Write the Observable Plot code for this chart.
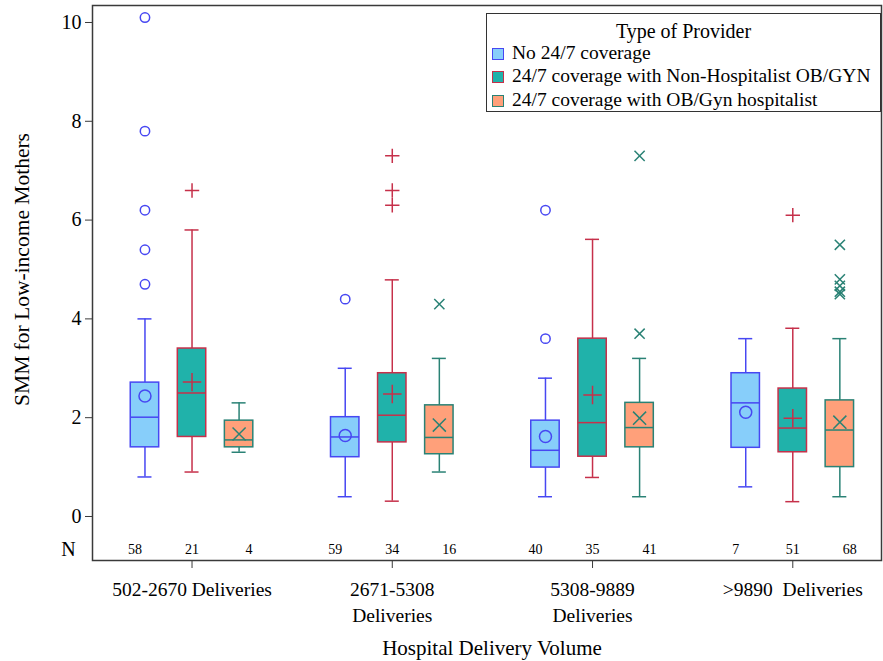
<!DOCTYPE html>
<html>
<head>
<meta charset="utf-8">
<script src="https://cdn.jsdelivr.net/npm/d3@7"></script>
<script src="https://cdn.jsdelivr.net/npm/@observablehq/plot@0.6"></script>
<style>
  html, body { margin: 0; padding: 0; background: #fff; }
  #wrap { position: relative; width: 883px; height: 661px; font-family: "Liberation Serif", "Times New Roman", serif; }
  #wrap svg { font-family: "Liberation Serif", "Times New Roman", serif !important; }
  #legend { position: absolute; left: 486px; top: 13px; width: 393px; height: 97px; border: 1.5px solid #333; background: #fff; box-sizing: content-box; }
  #legend .title { position: absolute; left: 0; right: 0; top: 5px; text-align: center; font-size: 20px; line-height: 24px; }
  #legend .item { position: absolute; left: 5px; font-size: 19.5px; line-height: 22px; white-space: nowrap; }
  #legend .sw { display: inline-block; width: 10px; height: 10px; border: 1.5px solid; margin-right: 8px; vertical-align: -1px; }
</style>
</head>
<body>
<div id="wrap"></div>
<script>
// ---------- data ----------
const groups = ["502-2670 Deliveries", "2671-5308\nDeliveries", "5308-9889\nDeliveries", ">9890\u00a0 Deliveries"];
const providers = ["No 24/7 coverage", "24/7 coverage with Non-Hospitalist OB/GYN", "24/7 coverage with OB/Gyn hospitalist"];
const legendTitle = "Type of Provider";
const yTicks = [0, 2, 4, 6, 8, 10];

// No 24/7 coverage
const noCovQ1   = [1.40, 1.20, 0.99, 1.39];
const noCovMed  = [2.01, 1.61, 1.34, 2.30];
const noCovQ3   = [2.71, 2.01, 1.94, 2.90];
const noCovLo   = [0.80, 0.40, 0.40, 0.60];
const noCovHi   = [4.00, 3.00, 2.80, 3.60];
const noCovMean = [2.44, 1.64, 1.62, 2.11];
const noCovN    = [58, 59, 40, 7];
const noCovOut  = [[10.1, 7.8, 6.2, 5.4, 4.7], [4.4], [6.2, 3.6], []];

// 24/7 coverage with Non-Hospitalist OB/GYN
const nonHospQ1   = [1.61, 1.50, 1.21, 1.30];
const nonHospMed  = [2.50, 2.05, 1.90, 1.79];
const nonHospQ3   = [3.40, 2.90, 3.60, 2.59];
const nonHospLo   = [0.90, 0.31, 0.79, 0.30];
const nonHospHi   = [5.80, 4.79, 5.61, 3.81];
const nonHospMean = [2.72, 2.48, 2.46, 1.99];
const nonHospN    = [21, 34, 35, 51];
const nonHospOut  = [[6.6], [7.3, 6.6, 6.3], [], [6.1]];

// 24/7 coverage with OB/Gyn hospitalist
const hospQ1   = [1.40, 1.26, 1.40, 1.00];
const hospMed  = [1.55, 1.60, 1.80, 1.75];
const hospQ3   = [1.94, 2.25, 2.30, 2.35];
const hospLo   = [1.30, 0.90, 0.40, 0.40];
const hospHi   = [2.30, 3.20, 3.20, 3.60];
const hospMean = [1.67, 1.85, 1.99, 1.91];
const hospN    = [4, 16, 41, 68];
const hospOut  = [[], [4.3], [7.3, 3.7], [5.5, 4.8, 4.67, 4.55, 4.5]];

// ---------- styles ----------
const styles = [
  {fill: "#87CEFA", stroke: "#4747F2", symbol: "circle"},
  {fill: "#20B2AA", stroke: "#C6304A", symbol: "plus"},
  {fill: "#FFA07A", stroke: "#2A8275", symbol: "times"}
];
const boxOffset = [-0.235, 0, 0.235];
const nOffset = [-0.285, 0, 0.285];
const boxW = 0.142, capHalf = 0.035;
const nRowY = -0.668;
const serif = "'Liberation Serif', 'Times New Roman', serif";

const series = [
  {q1: noCovQ1, med: noCovMed, q3: noCovQ3, lo: noCovLo, hi: noCovHi, mean: noCovMean, n: noCovN, out: noCovOut},
  {q1: nonHospQ1, med: nonHospMed, q3: nonHospQ3, lo: nonHospLo, hi: nonHospHi, mean: nonHospMean, n: nonHospN, out: nonHospOut},
  {q1: hospQ1, med: hospMed, q3: hospQ3, lo: hospLo, hi: hospHi, mean: hospMean, n: hospN, out: hospOut}
];

const marks = [];
series.forEach((s, p) => {
  const st = styles[p];
  const rows = groups.map((_, g) => ({
    g, x: g + boxOffset[p], q1: s.q1[g], med: s.med[g], q3: s.q3[g],
    lo: s.lo[g], hi: s.hi[g], mean: s.mean[g], n: s.n[g]
  }));
  const outRows = [];
  s.out.forEach((vals, g) => vals.forEach(v => outRows.push({x: g + boxOffset[p], y: v})));
  marks.push(
    Plot.ruleX(rows, {x: "x", y1: "q3", y2: "hi", stroke: st.stroke, strokeWidth: 1.5}),
    Plot.ruleX(rows, {x: "x", y1: "lo", y2: "q1", stroke: st.stroke, strokeWidth: 1.5}),
    Plot.ruleY(rows, {y: "hi", x1: d => d.x - capHalf, x2: d => d.x + capHalf, stroke: st.stroke, strokeWidth: 1.5}),
    Plot.ruleY(rows, {y: "lo", x1: d => d.x - capHalf, x2: d => d.x + capHalf, stroke: st.stroke, strokeWidth: 1.5}),
    Plot.rect(rows, {x1: d => d.x - boxW / 2, x2: d => d.x + boxW / 2, y1: "q1", y2: "q3", fill: st.fill, stroke: st.stroke, strokeWidth: 1.5}),
    Plot.ruleY(rows, {y: "med", x1: d => d.x - boxW / 2, x2: d => d.x + boxW / 2, stroke: st.stroke, strokeWidth: 1.5}),
    Plot.dot(rows, {x: "x", y: "mean", symbol: st.symbol, r: 6, fill: "none", stroke: st.stroke, strokeWidth: 1.5}),
    Plot.dot(outRows, {x: "x", y: "y", symbol: st.symbol, r: 4.7, fill: "none", stroke: st.stroke, strokeWidth: 1.5}),
    Plot.text(rows, {x: d => d.g + nOffset[p], y: () => nRowY, text: d => String(d.n), fontSize: 14, fill: "#000", fontFamily: serif})
  );
});

const chart = Plot.plot({
  width: 883,
  height: 661,
  marginLeft: 92,
  marginRight: 2,
  marginTop: 5,
  marginBottom: 101,
  style: "font-family: 'Liberation Serif', 'Times New Roman', serif; font-size: 20px; background: #fff; color: #000;",
  x: {domain: [-0.497, 3.443]},
  y: {domain: [-0.891, 10.344]},
  marks: [
    ...marks,
    Plot.frame({stroke: "#3a3a3a", strokeWidth: 1.5}),
    Plot.axisY({ticks: yTicks, tickSize: 7, tickPadding: 4, fontSize: 20, label: null, stroke: "#3a3a3a", fontFamily: serif}),
    Plot.axisX({ticks: [0, 1, 2, 3], tickFormat: i => groups[i], tickSize: 8, tickPadding: 10, fontSize: 19.5, lineHeight: 1.3, label: null, stroke: "#3a3a3a", fontFamily: serif}),
    Plot.text(["N"], {frameAnchor: "left", y: () => nRowY, dx: -24, textAnchor: "middle", fontSize: 20, fontFamily: serif}),
    Plot.text(["SMM for Low-income Mothers"], {frameAnchor: "left", y: () => (yTicks[0] + yTicks[yTicks.length - 1]) / 2, dx: -70, rotate: -90, textAnchor: "middle", fontSize: 21.5, fontFamily: serif}),
    Plot.text(["Hospital Delivery Volume"], {frameAnchor: "bottom", dy: 94, dx: 5, fontSize: 21, fontFamily: serif})
  ]
});

const wrap = document.getElementById("wrap");
wrap.appendChild(chart);

const legend = document.createElement("div");
legend.id = "legend";
const t = document.createElement("div");
t.className = "title";
t.textContent = legendTitle;
legend.appendChild(t);
const itemTops = [28, 51, 75];
providers.forEach((name, i) => {
  const it = document.createElement("div");
  it.className = "item";
  it.style.top = itemTops[i] + "px";
  const sw = document.createElement("span");
  sw.className = "sw";
  sw.style.background = styles[i].fill;
  sw.style.borderColor = styles[i].stroke;
  it.appendChild(sw);
  it.appendChild(document.createTextNode(name));
  legend.appendChild(it);
});
wrap.appendChild(legend);
</script>
</body>
</html>
